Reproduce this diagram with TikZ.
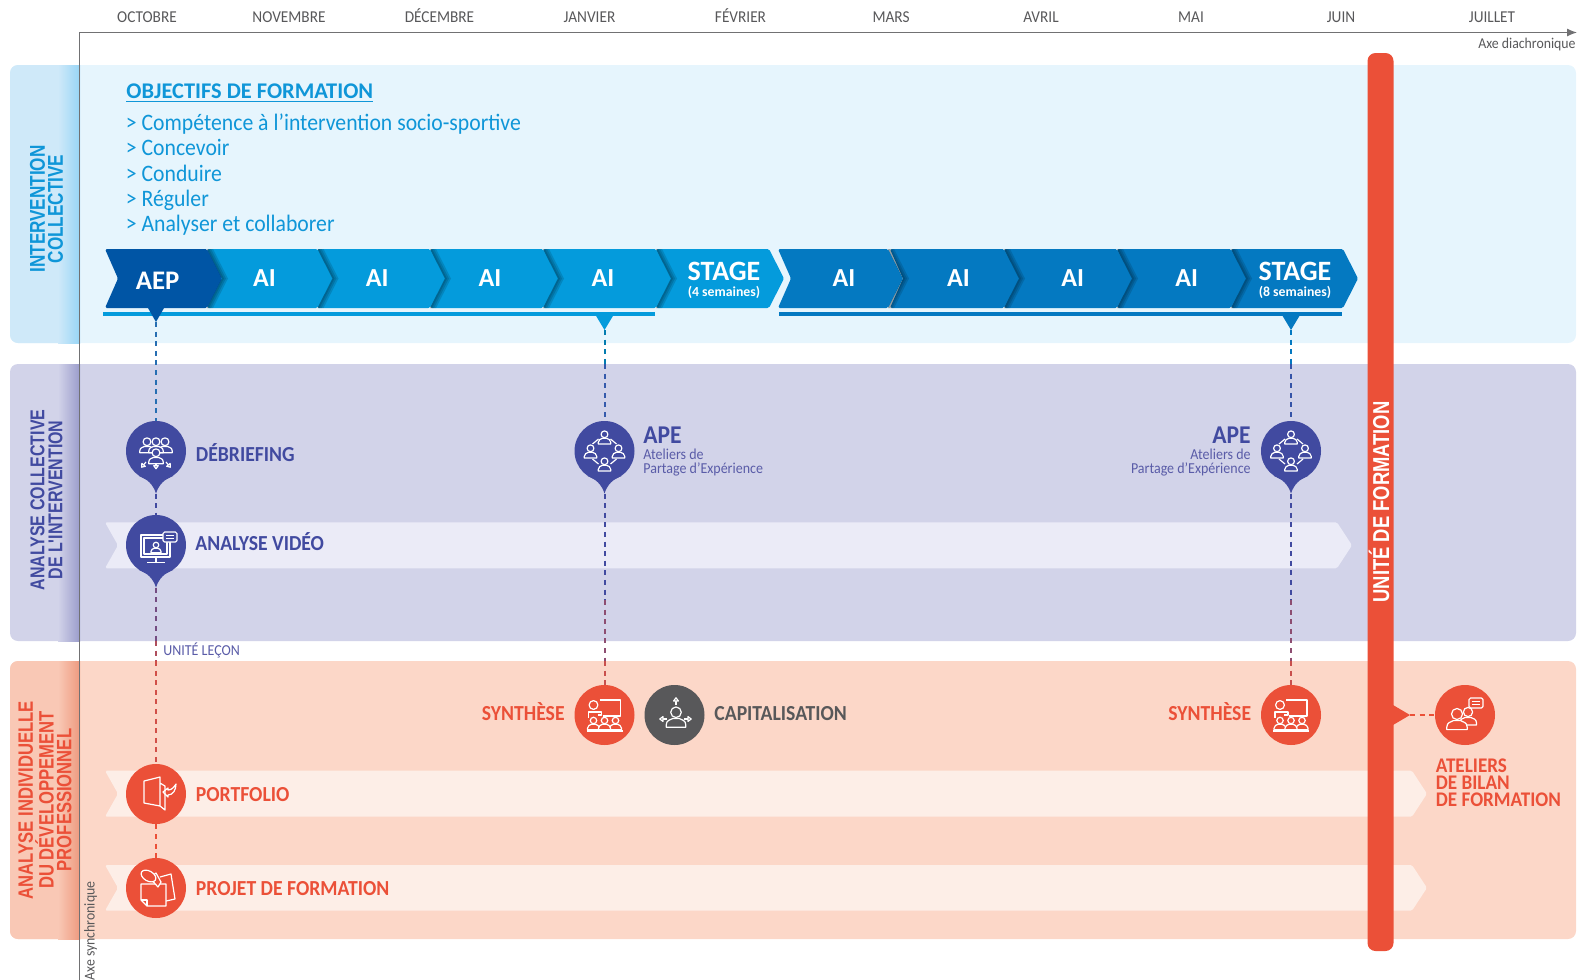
\documentclass[tikz,border=0pt]{standalone}
\usepackage{fontspec}
\setmainfont[FakeStretch=0.92]{Carlito}
\newfontfamily\widefont{Carlito}
\newfontfamily\sidefont[FakeStretch=0.8]{Liberation Sans}
\usetikzlibrary{arrows.meta}
\definecolor{skyback}{HTML}{E6F5FD}
\definecolor{skystrip}{HTML}{CFE9F9}
\definecolor{skyedge}{HTML}{97D5F6}
\definecolor{skytext}{HTML}{0F96D8}
\definecolor{aicol}{HTML}{049BDC}
\definecolor{aidark}{HTML}{0479C1}
\definecolor{aepcol}{HTML}{0055A5}
\definecolor{violback}{HTML}{D2D3E9}
\definecolor{violedge}{HTML}{9A9CCB}
\definecolor{violcol}{HTML}{414AA0}
\definecolor{violtext}{HTML}{5A5CA8}
\definecolor{violribbon}{HTML}{EBEBF7}
\definecolor{redback}{HTML}{FCD7C8}
\definecolor{redstrip}{HTML}{F9C8B5}
\definecolor{rededge}{HTML}{EE9A7F}
\definecolor{redcol}{HTML}{EB5038}
\definecolor{redribbon}{HTML}{FDEEE7}
\definecolor{greycol}{HTML}{58585A}
\tikzset{
  every node/.style={inner sep=0pt},
  month/.style={anchor=base,text=greycol,font=\fontsize{8.3}{9}\selectfont},
  sidelabel/.style={rotate=90,align=center,font=\sidefont\bfseries\fontsize{#1}{8.9}\selectfont},
  objline/.style={anchor=base west,text=skytext,font=\fontsize{11.8}{13}\selectfont},
  ailabel/.style={anchor=base,text=white,font=\widefont\bfseries\fontsize{13}{14}\selectfont},
  stagelabel/.style={anchor=base,text=white,font=\widefont\bfseries\fontsize{14}{15}\selectfont},
  weeklabel/.style={anchor=base,text=white,font=\widefont\bfseries\fontsize{6.9}{8}\selectfont},
  disc/.style={circle,minimum size=30pt,fill=#1},
  steplabel/.style={text=#1,font=\bfseries\fontsize{10.7}{11}\selectfont},
  smalllabel/.style={text=violtext,font=\fontsize{7.6}{8}\selectfont},
  dotted line/.style={draw=#1,line width=1pt,dash pattern=on 2.5pt off 2.3pt},
  axis line/.style={draw=greycol!85,line width=.6pt},
  icon line/.style={draw=white,line width=.6pt,line join=round},
  pics/person/.style={code={
    \filldraw[icon line,fill=#1] (0,-5) circle (4.6);
    \filldraw[icon line,fill=#1] (-8.5,8) -- (-8.5,6) .. controls (-8.5,2) and (-5,1.5) .. (-3,0.5)
      -- (3,0.5) .. controls (5,1.5) and (8.5,2) .. (8.5,6) -- (8.5,8) -- cycle;
  }},
  pics/bubble/.style={code={
    \filldraw[icon line,fill=#1,rounded corners=.8pt] (0,0) rectangle (14,10);
    \draw[icon line] (3,3.5) -- (11,3.5) (3,6.5) -- (11,6.5);
  }},
  pics/smallarrow/.style={code={
    \draw[icon line] (0,0) -- (0,5);
    \filldraw[icon line,fill=#1] (-3,5) -- (3,5) -- (0,9) -- cycle;
  }},
}
% one arrow of the strip, its shadow falls on the next arrow
\newcommand{\chevron}[4]{
  \fill[#4,rounded corners=.8pt] (#1,249) -- (#2-15,249) -- (#2,278.5) -- (#2-15,308) -- (#1,308) -- (#1+13,278.5) -- cycle;
  \ifx&#3&\else
    \foreach \d in {2,4,6}{
      \fill[black,opacity=.13] (#2-15,249) -- (#2,278.5) -- (#2-15,308) -- (#2-15+\d,308) -- (#2+\d,278.5) -- (#2-15+\d,249) -- cycle;
    }
  \fi
}
\newcommand{\ribbon}[4]{
  \fill[#4,rounded corners=.8pt] (105,#2) -- (#1-15,#2) -- (#1,{(#2+#3)/2}) -- (#1-15,#3) -- (105,#3) -- (118,{(#2+#3)/2}) -- cycle;
}
\newcommand{\droptip}[2]{
  \fill[#2,shift={(#1)}] (-17,25) .. controls (-9,28) and (-3,33) .. (0,42.5) .. controls (3,33) and (9,28) .. (17,25) -- cycle;
}
\begin{document}
\begin{tikzpicture}[x=0.5pt,y=-0.5pt]
  \useasboundingbox (0,0) rectangle (1580,980);

  % the three bands
  \fill[skyback,rounded corners=4pt] (10,65) rectangle (1576,343);
  \fill[violback,rounded corners=4pt] (10,364) rectangle (1576,641);
  \fill[redback,rounded corners=4pt] (10,661) rectangle (1576,939);
  \fill[skystrip] (60,65) [rounded corners=4pt] -- (10,65) -- (10,343) [sharp corners] -- (60,343) -- cycle;
  \shade[left color=skystrip,right color=skyedge] (58,65) rectangle (80,343);
  \shade[left color=violback,right color=violedge] (58,364) rectangle (80,641);
  \fill[redstrip] (60,661) [rounded corners=4pt] -- (10,661) -- (10,939) [sharp corners] -- (60,939) -- cycle;
  \shade[left color=redstrip,right color=rededge] (58,661) rectangle (80,939);

  \node[sidelabel=10.7,text=skytext] (sideone) at (46.5,209) {INTERVENTION\\COLLECTIVE};
  \node[sidelabel=10,text=violcol] (sidetwo) at (46.5,500) {ANALYSE COLLECTIVE\\DE L'INTERVENTION};
  \node[sidelabel=10.4,text=redcol] (sidethree) at (45,800) {ANALYSE INDIVIDUELLE\\DU DÉVELOPPEMENT\\PROFESSIONNEL};

  % axes
  \coordinate (origin) at (79.5,32.5);
  \coordinate (axisend) at (1577,32.5);
  \coordinate (axisbottom) at (79.5,980);
  \draw[axis line,-{Latex[length=5pt,width=4pt]}] (axisbottom) -- (origin) -- (axisend);
  \node[anchor=base east,text=greycol,font=\fontsize{7.5}{8}\selectfont] (diachro) at (1576,48) {Axe diachronique};
  \node[rotate=90,text=greycol,font=\fontsize{7.5}{8}\selectfont] (synchro) at (90.5,931) {Axe synchronique};

  \node[month] (oct) at (147,22.7) {OCTOBRE};
  \node[month] (nov) at (289,22.7) {NOVEMBRE};
  \node[month] (dec) at (439.5,22.7) {DÉCEMBRE};
  \node[month] (jan) at (589.5,22.7) {JANVIER};
  \node[month] (feb) at (740.5,22.7) {FÉVRIER};
  \node[month] (mar) at (891,22.7) {MARS};
  \node[month] (apr) at (1041,22.7) {AVRIL};
  \node[month] (may) at (1191,22.7) {MAI};
  \node[month] (jun) at (1341,22.7) {JUIN};
  \node[month] (jul) at (1492,22.7) {JUILLET};

  % objectifs
  \node[anchor=base west,text=skytext,font=\widefont\bfseries\fontsize{11.2}{12}\selectfont] (objectifs) at (126,98.3) {\underline{OBJECTIFS DE FORMATION}};
  \node[objline] (objone) at (125.5,130.3) {> Compétence à l’intervention socio-sportive};
  \node[objline] (objtwo) at (125.5,155.6) {> Concevoir};
  \node[objline] (objthree) at (125.5,181) {> Conduire};
  \node[objline] (objfour) at (125.5,206.3) {> Réguler};
  \node[objline] (objfive) at (125.5,231.6) {> Analyser et collaborer};

  % first strip
  \chevron{656}{784}{}{aicol}
  \chevron{543}{671}{s}{aicol}
  \chevron{430}{558}{s}{aicol}
  \chevron{317}{445}{s}{aicol}
  \chevron{207}{332.5}{s}{aicol}
  \chevron{105}{222}{s}{aepcol}
  % second strip
  \chevron{1231}{1358}{}{aidark}
  \chevron{1117}{1246}{s}{aidark}
  \chevron{1004}{1132}{s}{aidark}
  \chevron{890}{1019}{s}{aidark}
  \chevron{778}{903}{s}{aidark}

  \node[ailabel,font=\widefont\bfseries\fontsize{13.4}{14}\selectfont] (aep) at (157.7,289.3) {AEP};
  \node[ailabel] (aione) at (264.5,286) {AI};
  \node[ailabel] (aitwo) at (377.3,286) {AI};
  \node[ailabel] (aithree) at (490,286) {AI};
  \node[ailabel] (aifour) at (603,286) {AI};
  \node[stagelabel] (stageone) at (724,280) {STAGE};
  \node[weeklabel] (weekone) at (724,296) {(4 semaines)};
  \node[ailabel] (aifive) at (844,286) {AI};
  \node[ailabel] (aisix) at (958.4,286) {AI};
  \node[ailabel] (aiseven) at (1072.6,286) {AI};
  \node[ailabel] (aieight) at (1186.7,286) {AI};
  \node[stagelabel] (stagetwo) at (1295,280) {STAGE};
  \node[weeklabel] (weektwo) at (1295,296) {(8 semaines)};

  \fill[aicol] (103,312) rectangle (655,315.5);
  \fill[aidark] (779,312) rectangle (1342,315.5);
  \coordinate (pinaep) at (156,322);
  \coordinate (pinjan) at (604.5,330);
  \coordinate (pinjun) at (1291,330);
  \fill[aepcol] (148,308) -- (164,308) -- (pinaep) -- cycle;
  \fill[aicol] (595.5,315) -- (613.5,315) -- (pinjan) -- cycle;
  \fill[aidark] (1282,315) -- (1300,315) -- (pinjun) -- cycle;

  % ribbons
  \ribbon{1352}{522.3}{568.3}{violribbon}
  \ribbon{1427}{770.7}{816.7}{redribbon}
  \ribbon{1427}{865}{910.7}{redribbon}

  % red bar
  \fill[redcol,rounded corners=4pt] (1367.5,53) rectangle (1393.5,951);
  \coordinate (barpin) at (1410,715);
  \fill[redcol] (1393,705) -- (barpin) -- (1393,725) -- cycle;
  \node[rotate=90,text=white,font=\sidefont\bfseries\fontsize{11.5}{13}\selectfont] (unite) at (1379,502) {UNITÉ DE FORMATION};

  % discs
  \node[disc=violcol] (debriefing) at (156,451) {};
  \droptip{debriefing}{violcol}
  \node[disc=violcol] (video) at (156,545) {};
  \droptip{video}{violcol}
  \node[disc=violcol] (apeone) at (604.5,451) {};
  \droptip{apeone}{violcol}
  \node[disc=violcol] (apetwo) at (1291,451) {};
  \droptip{apetwo}{violcol}
  \node[disc=redcol] (syntheseone) at (604.5,715) {};
  \node[disc=greycol] (capital) at (674.5,715) {};
  \node[disc=redcol] (synthesetwo) at (1291,715) {};
  \node[disc=redcol] (ateliers) at (1465,715) {};
  \node[disc=redcol] (portfolio) at (156,794) {};
  \node[disc=redcol] (projet) at (156,888) {};
  \coordinate (debriefingtip) at (156,493.5);
  \coordinate (videotip) at (156,587.5);
  \coordinate (apeonetip) at (604.5,493.5);
  \coordinate (apetwotip) at (1291,493.5);
  \coordinate (lecontop) at (156,641);
  \coordinate (leconlow) at (156,661);
  \coordinate (janone) at (604.5,364);
  \coordinate (jantwo) at (604.5,600);
  \coordinate (janthree) at (604.5,661);
  \coordinate (junone) at (1291,364);
  \coordinate (juntwo) at (1291,600);
  \coordinate (junthree) at (1291,661);

  % connectors
  \draw[dotted line=aepcol!85] (pinaep) -- (debriefing.north);
  \draw[dotted line=violcol] (debriefingtip) -- (video.north);
  \draw[dotted line=violcol!70!redcol] (videotip) -- (lecontop);
  \draw[dotted line=violcol!35!redcol] (lecontop) -- (leconlow);
  \draw[dotted line=redcol!85!violcol] (leconlow) -- (portfolio.north);
  \draw[dotted line=redcol] (portfolio.south) -- (projet.north);
  \draw[dotted line=aicol!80!black] (pinjan) -- (janone);
  \draw[dotted line=violcol!80!aicol] (janone) -- (apeone.north);
  \draw[dotted line=violcol] (apeonetip) -- (jantwo);
  \draw[dotted line=violcol!55!redcol] (jantwo) -- (janthree);
  \draw[dotted line=redcol!80!violcol] (janthree) -- (syntheseone.north);
  \draw[dotted line=aidark] (pinjun) -- (junone);
  \draw[dotted line=violcol!80!aidark] (junone) -- (apetwo.north);
  \draw[dotted line=violcol] (apetwotip) -- (juntwo);
  \draw[dotted line=violcol!55!redcol] (juntwo) -- (junthree);
  \draw[dotted line=redcol!80!violcol] (junthree) -- (synthesetwo.north);
  \draw[dotted line=redcol] (barpin) -- (ateliers.west);

  % texts beside the discs
  \node[steplabel=violcol,anchor=base west] (debrieftext) at (195.5,461.7) {DÉBRIEFING};
  \node[steplabel=violcol,anchor=base west] (videotext) at (195,550) {ANALYSE VIDÉO};
  \node[smalllabel,anchor=base west] (lecon) at (163,655.7) {UNITÉ LEÇON};
  \node[steplabel=violcol,anchor=base west,font=\bfseries\fontsize{12.8}{13}\selectfont] (apeonetext) at (643,443.3) {APE};
  \node[smalllabel,anchor=base west] (apeonesub) at (643,459) {Ateliers de};
  \node[smalllabel,anchor=base west] (apeonesubb) at (643,473) {Partage d’Expérience};
  \node[steplabel=violcol,anchor=base east,font=\bfseries\fontsize{12.8}{13}\selectfont] (apetwotext) at (1251,443.3) {APE};
  \node[smalllabel,anchor=base east] (apetwosub) at (1251,459) {Ateliers de};
  \node[smalllabel,anchor=base east] (apetwosubb) at (1251,473) {Partage d’Expérience};
  \node[steplabel=redcol,anchor=base east] (synthtext) at (565,720) {SYNTHÈSE};
  \node[steplabel=greycol,anchor=base west] (capitaltext) at (714,720) {CAPITALISATION};
  \node[steplabel=redcol,anchor=base east] (synthtexttwo) at (1251.5,720) {SYNTHÈSE};
  \node[steplabel=redcol,anchor=base west] (portfoliotext) at (195.5,801.7) {PORTFOLIO};
  \node[steplabel=redcol,anchor=base west] (projettext) at (195.5,895) {PROJET DE FORMATION};
  \node[anchor=west,align=left,text=redcol,font=\bfseries\fontsize{10.4}{8.6}\selectfont] (atelierstext) at (1435.5,783) {ATELIERS\\DE BILAN\\DE FORMATION};

  % icons
  \pic[scale=.85] at (147,446) {person=violcol};
  \pic[scale=.85] at (165,446) {person=violcol};
  \pic[scale=.85] at (156,446) {person=violcol};
  \pic[scale=.75,rotate=-40] at (146,462) {smallarrow=violcol};
  \pic[scale=.75,rotate=40] at (166,462) {smallarrow=violcol};
  \pic[scale=.75] at (156,462) {smallarrow=violcol};
  \pic[scale=.85] at (156,457) {person=violcol};

  \draw[icon line] (141,535) rectangle (170,557) (144,538) rectangle (167,554)
    (156,557) -- (156,562) (147,562.5) -- (165,562.5);
  \pic[scale=.6] at (156,548) {person=violcol};
  \pic at (163,532) {bubble=violcol};

  \foreach \cx in {604.5,1291}{
    \pic[scale=.74] at (\cx,438) {person=violcol};
    \pic[scale=.74] at (\cx-14,452) {person=violcol};
    \pic[scale=.74] at (\cx+14,452) {person=violcol};
    \pic[scale=.74] at (\cx,465) {person=violcol};
    \draw[icon line] (\cx-6,439) -- (\cx-12,444) (\cx+6,439) -- (\cx+12,444)
      (\cx-6,464) -- (\cx-12,459) (\cx+6,464) -- (\cx+12,459);
  }

  \foreach \cx in {604.5,1291}{
    \draw[icon line] (\cx-5,700) -- (\cx+16,700) -- (\cx+16,716) -- (\cx-2,716);
    \draw[icon line] (\cx-11,705) circle (4.4);
    \draw[icon line] (\cx-16,718) -- (\cx-16,712) -- (\cx-3,712) -- (\cx-3,715) -- (\cx-7,715);
    \pic[scale=.7] at (\cx-11,724) {person=redcol};
    \pic[scale=.7] at (\cx+11,724) {person=redcol};
    \pic[scale=.7] at (\cx,724) {person=redcol};
    \draw[icon line] (\cx-18,731) -- (\cx+18,731);
  }

  \pic[scale=1.15] at (676,718) {person=greycol};
  \pic[scale=.8,rotate=180] at (676,705) {smallarrow=greycol};
  \pic[scale=.8,rotate=-90] at (667,719) {smallarrow=greycol};
  \pic[scale=.8,rotate=90] at (684,719) {smallarrow=greycol};

  \draw[icon line] (144,781) -- (160,777) -- (160,806) -- (144,803) -- cycle
    (160,783) -- (165,786) -- (165,810) -- (160,806);
  \draw[icon line] (163,792) -- (168,788) -- (168,790) .. controls (172,790) and (174,787) .. (176,784)
    .. controls (176,790) and (173,795) .. (168,795) -- (168,797) -- cycle;

  \draw[icon line] (160,877) -- (171,874) -- (175,899) -- (166,901);
  \filldraw[icon line,fill=redcol] (141,884) -- (166,884) -- (166,906) -- (147,906) -- (141,900) -- cycle;
  \draw[icon line] (141,900) -- (147,900) -- (147,906);
  \filldraw[icon line,fill=redcol] (150,878) -- (156,873) -- (161,882) -- (158,887) -- cycle;
  \filldraw[icon line,fill=redcol,rotate around={-30:(148.5,876)}] (148.5,876) ellipse (8 and 5);

  \pic[scale=1] at (1468,717) {person=redcol};
  \pic[scale=1.2] at (1457,720) {person=redcol};
  \pic at (1469,698) {bubble=redcol};
\end{tikzpicture}
\end{document}
